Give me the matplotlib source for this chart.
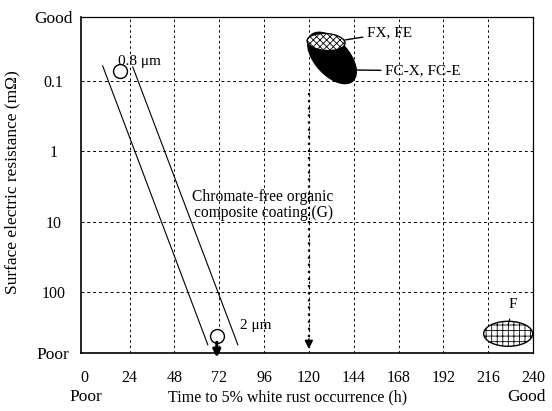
import numpy as np
import matplotlib
matplotlib.use("Agg")
import matplotlib.pyplot as plt
from matplotlib.patches import Ellipse
from matplotlib.transforms import Affine2D, ScaledTranslation

# ---------------- data ----------------
hours_ticks = [0, 24, 48, 72, 96, 120, 144, 168, 192, 216, 240]
resist_grid = [0.1, 1, 10, 100]
y_good, y_poor = 0.0123, 741.0
y_tick_vals = [y_good, 0.1, 1, 10, 100, y_poor]
y_tick_labels = ["Good", "0.1", "1", "10", "100", "Poor"]

# chromate-free organic composite coating (G) band
g_left_x = [9.6, 65.9]
g_left_y = [0.061, 567]
g_right_x = [25.7, 82.0]
g_right_y = [0.063, 567]

# coating thickness points
pt08_x, pt08_y = 18.8, 0.072     # 0.8 um
pt2_x, pt2_y = 70.7, 423.0       # 2 um

# other coatings (centres)
fcx_x, fcx_y = 132.4, 0.047      # FC-X, FC-E
fx_x, fx_y = 129.2, 0.0279       # FX, FE
f_x, f_y = 226.7, 395.0          # F

# ---------------- figure ----------------
plt.rcParams['font.family'] = ['Liberation Serif', 'DejaVu Serif']
plt.rcParams['font.size'] = 11
plt.rcParams['hatch.linewidth'] = 0.6

fig = plt.figure(figsize=(5.52, 4.11), dpi=100)
W, H = 552, 411
ax = fig.add_axes([81 / W, 1 - 353 / H, (533 - 81) / W, (353 - 17) / H])
ax.set_yscale('log')
ax.set_xlim(-2, 240)
ax.set_ylim(y_poor, y_good)

for s in ax.spines.values():
    s.set_color('black')
    s.set_linewidth(0.9)
ax.spines['left'].set_linewidth(1.2)
ax.spines['bottom'].set_linewidth(1.2)

ax.set_xticks(hours_ticks)
ax.set_xticklabels([str(h) for h in hours_ticks])
ax.set_yticks(y_tick_vals)
ax.set_yticklabels(y_tick_labels)
ax.yaxis.set_minor_locator(matplotlib.ticker.NullLocator())
ax.tick_params(axis='x', length=0, pad=12, labelsize=11.5)
ax.tick_params(axis='y', length=0, pad=20, labelsize=11.5)
for lab in ax.get_yticklabels():
    lab.set_horizontalalignment('center')
    if lab.get_text() in ('Good', 'Poor'):
        lab.set_fontsize(12.5)

# grid
for h in hours_ticks[1:-1]:
    ax.axvline(h, color='black', lw=0.7, ls=(0, (2.5, 3)), zorder=1)
for r in resist_grid:
    ax.axhline(r, color='black', lw=0.7, ls=(0, (3, 3)), zorder=1)

# G band lines
ax.plot(g_left_x, g_left_y, color='black', lw=0.8, zorder=3)
ax.plot(g_right_x, g_right_y, color='black', lw=0.8, zorder=3)

# thickness points
ax.plot([pt08_x], [pt08_y], 'o', mfc='white', mec='black', ms=10, mew=1.0, zorder=4)
ax.plot([pt2_x], [pt2_y], 'o', mfc='white', mec='black', ms=10, mew=1.0, zorder=4)
ax.annotate('', xy=(pt2_x, 860), xytext=(pt2_x, 520), annotation_clip=False,
            arrowprops=dict(arrowstyle='-|>', color='black', lw=2.2, mutation_scale=11,
                            shrinkA=0, shrinkB=0), zorder=5)
ax.text(17.7, 0.052, '0.8 \u03bcm', fontsize=11, ha='left', va='center')
ax.text(83.1, 305, '2 \u03bcm', fontsize=11, ha='left', va='center')

ax.text(95.5, 5.8, 'Chromate-free organic\ncomposite coating (G)', fontsize=11.2,
        ha='center', va='center', linespacing=1.0)

# arrow at 120 h
ax.plot([120, 120], [0.15, 560], color='black', lw=1.6, ls=(0, (1, 2.2)), zorder=3)
ax.annotate('', xy=(120, 650), xytext=(120, 470),
            arrowprops=dict(arrowstyle='-|>', color='black', lw=1.2, mutation_scale=12,
                            shrinkA=0, shrinkB=0), zorder=5)

# ellipses (sizes in pixels)
def pix_ellipse(x, y, w, h, ang, **kw):
    tr = Affine2D() + ScaledTranslation(x, y, ax.transData)
    e = Ellipse((0, 0), w, h, angle=ang, transform=tr, **kw)
    ax.add_patch(e)
    return e

pix_ellipse(fcx_x, fcx_y, 62, 34, -48, facecolor='black', edgecolor='black', lw=1, zorder=6)
pix_ellipse(fx_x, fx_y, 38, 17, -4, facecolor='white', edgecolor='black', lw=1,
            hatch='xxxxx', zorder=7)
pix_ellipse(f_x, f_y, 49, 25, 0, facecolor='white', edgecolor='black', lw=1,
            hatch='+++', zorder=6)

ax.annotate('FX, FE', xy=(139.3, 0.0261), xytext=(151.1, 0.0207), ha='left', va='center',
            fontsize=11, arrowprops=dict(arrowstyle='-', color='black', lw=1.0,
                                         shrinkA=1, shrinkB=0), zorder=8)
ax.annotate('FC-X, FC-E', xy=(145.8, 0.0698), xytext=(160.8, 0.072), ha='left', va='center',
            fontsize=11, arrowprops=dict(arrowstyle='-', color='black', lw=1.0,
                                         shrinkA=1, shrinkB=0), zorder=8)
ax.annotate('F', xy=(226.7, 296), xytext=(229.4, 150), ha='center', va='center',
            fontsize=11, arrowprops=dict(arrowstyle='-', color='black', lw=0.8,
                                         shrinkA=4, shrinkB=0), zorder=8)

# axis labels
fig.text(12 / W, 1 - 182 / H, 'Surface electric resistance (m\u03a9)', rotation=90,
         ha='center', va='center', fontsize=12.5)
fig.text(288 / W, 1 - 397 / H, 'Time to 5% white rust occurrence (h)', ha='center',
         va='center', fontsize=11.5)
fig.text(86 / W, 1 - 397 / H, 'Poor', ha='center', va='center', fontsize=12.5)
fig.text(527 / W, 1 - 397 / H, 'Good', ha='center', va='center', fontsize=12.5)

fig.savefig('out.png', dpi=100)
